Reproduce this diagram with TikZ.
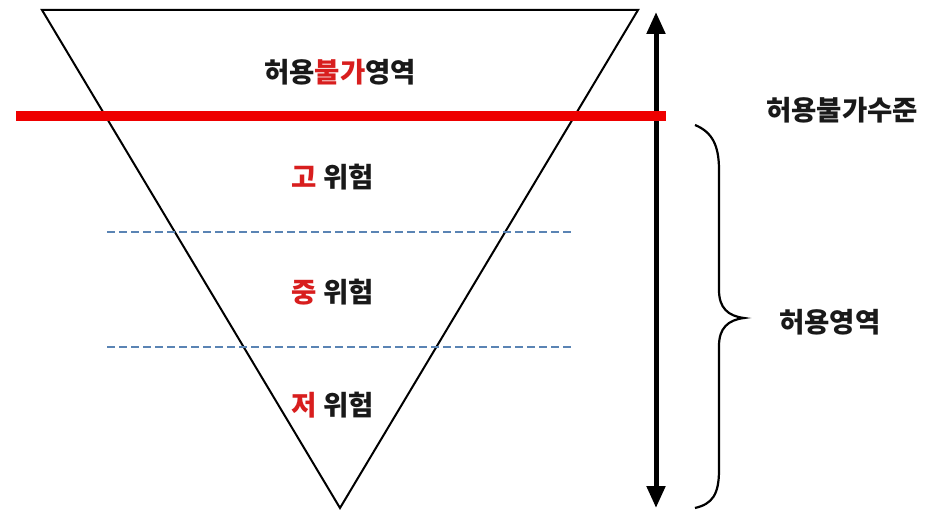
\documentclass[tikz,border=0pt]{standalone}
\usepackage{fontspec}
\newfontfamily\kr{Noto Sans CJK KR}
\usetikzlibrary{arrows.meta}
\definecolor{lred}{HTML}{EE0000}
\definecolor{tred}{HTML}{D81E1E}
\definecolor{dblue}{HTML}{5A84B4}
\tikzset{
  lbl/.style={font=\kr\bfseries\fontsize{27.5}{32}\selectfont, inner sep=0pt, text=black!90},
  dashline/.style={draw=dblue, line width=2pt, dash pattern=on 8pt off 4pt},
}
\begin{document}
\begin{tikzpicture}[x=1pt,y=-1pt]
\useasboundingbox[fill=white] (0,0) rectangle (932,511);
% triangle
\coordinate (tl) at (42,10);
\coordinate (tr) at (638,10);
\coordinate (ap) at (340,508);
\draw[line width=2pt, line join=miter] (tl) -- (tr) -- (ap) -- cycle;
% dashed lines
\coordinate (d1a) at (107,232); \coordinate (d1b) at (573,232);
\coordinate (d2a) at (107,347); \coordinate (d2b) at (573,347);
\draw[dashline] (d1a) -- (d1b);
\draw[dashline] (d2a) -- (d2b);
% arrow
\coordinate (ar1) at (656,12);
\coordinate (ar2) at (656,508);
\draw[line width=5pt, {Triangle[width=18pt,length=22pt]}-{Triangle[width=18pt,length=22pt]}] (ar1) -- (ar2);
% red line
\coordinate (r1) at (16,116); \coordinate (r2) at (666,116);
\draw[lred, line width=10pt] (r1) -- (r2);
% brace
\coordinate (b1) at (695,125);
\coordinate (b2) at (695,508);
\coordinate (bt) at (744,318);
\draw[line width=2.2pt] (b1) .. controls (712,132) and (719,145) .. (719,170)
  -- (719,290) .. controls (719,308) and (728,316) .. (bt)
  .. controls (728,320) and (719,328) .. (719,346)
  -- (719,470) .. controls (719,495) and (712,504) .. (b2);
% labels
\node[lbl] (t0) at (340,72) {허용\textcolor{tred}{불가}영역};
\node[lbl] (t1) at (333,177) {\textcolor{tred}{고} 위험};
\node[lbl] (t2) at (333,292) {\textcolor{tred}{중} 위험};
\node[lbl] (t3) at (333,405) {\textcolor{tred}{저} 위험};
\node[lbl, anchor=west] (t4) at (766,110) {허용불가수준};
\node[lbl, anchor=west] (t5) at (779,322) {허용영역};
\end{tikzpicture}
\end{document}
